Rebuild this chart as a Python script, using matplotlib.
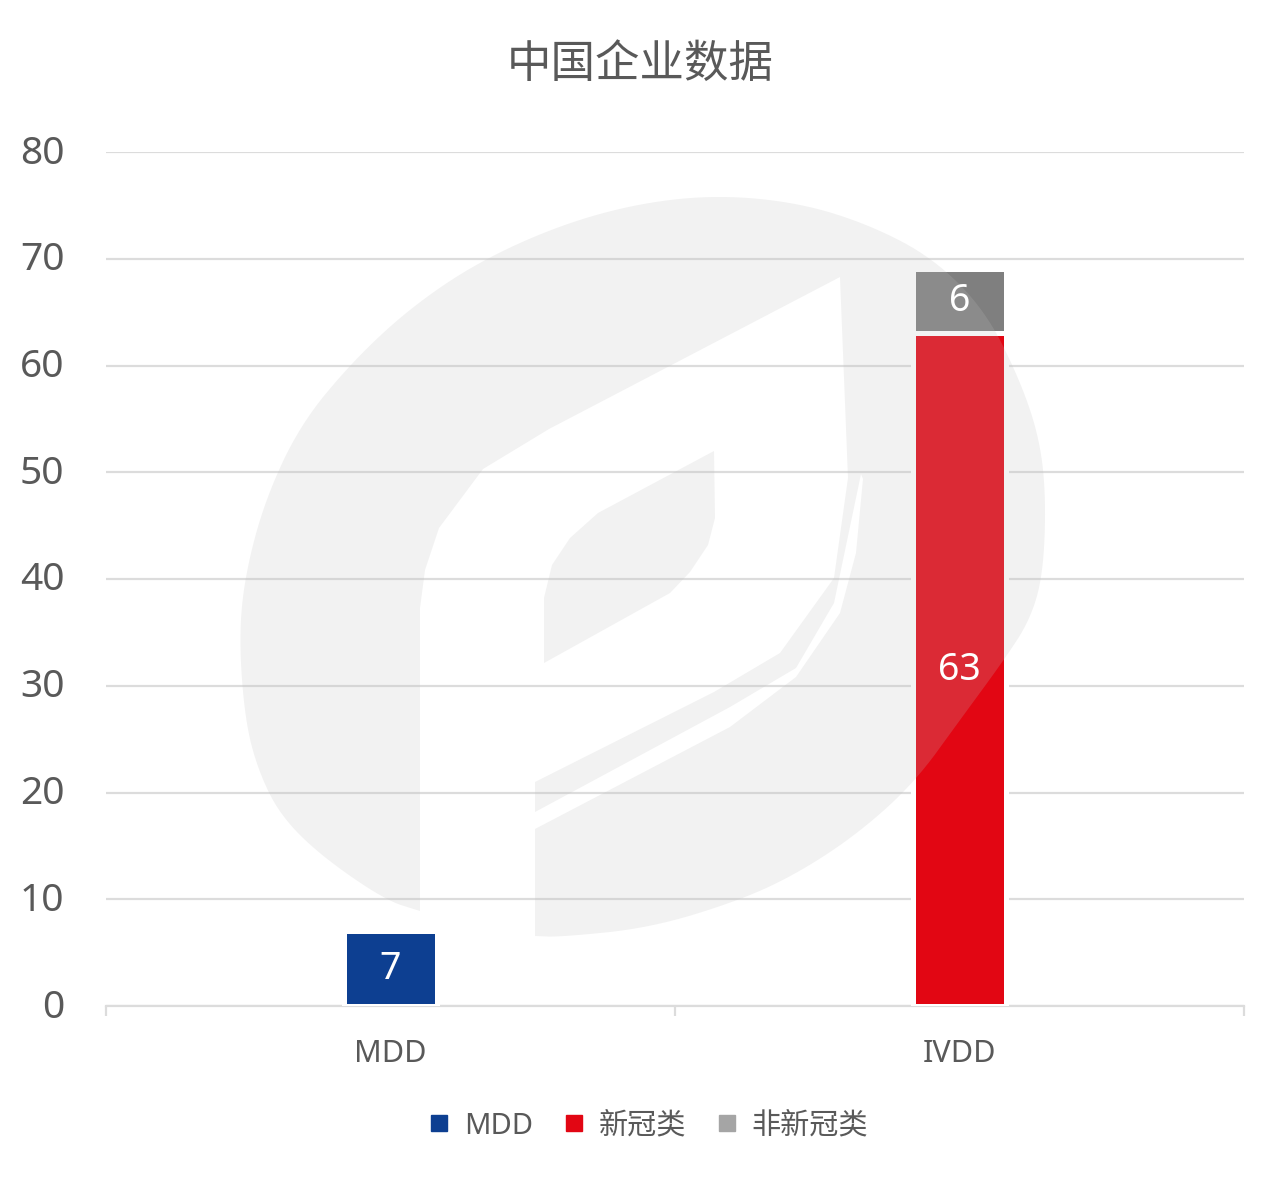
import matplotlib
matplotlib.use("Agg")
import matplotlib.pyplot as plt
from matplotlib.path import Path
from matplotlib.patches import PathPatch
from matplotlib.lines import Line2D
import matplotlib.transforms as mtransforms

plt.rcParams['font.family'] = ['Noto Sans', 'Noto Sans CJK SC', 'DejaVu Sans']

# ---- data ----
title = "中国企业数据"
categories = ["MDD", "IVDD"]
mdd_values = [7, 0]
covid_values = [0, 63]
noncovid_values = [0, 6]
series_names = ["MDD", "新冠类", "非新冠类"]
y_ticks = [0, 10, 20, 30, 40, 50, 60, 70, 80]

c_blue = "#0d3f91"
c_red = "#e20613"
c_gray = "#7f7f7f"
c_gray_legend = "#a5a5a5"
txt = "#595959"
grid_c = "#dcdcdc"

W, H = 1280, 1177
fig = plt.figure(figsize=(W / 100, H / 100), dpi=100)
ax = fig.add_axes([106 / W, 1 - 1006 / H, (1244 - 106) / W, (1006 - 152) / H])

x = list(range(len(categories)))
bw = 0.165
edge = dict(edgecolor="white", linewidth=3.6)

b1 = ax.bar(x, mdd_values, bw, color=c_blue, zorder=3, **edge)
b2 = ax.bar(x, covid_values, bw, bottom=mdd_values, color=c_red, zorder=3, **edge)
bottom3 = [a + b for a, b in zip(mdd_values, covid_values)]
b3 = ax.bar(x, noncovid_values, bw, bottom=bottom3, color=c_gray, zorder=3, **edge)

# data labels
for bars, vals, bots in [(b1, mdd_values, [0, 0]), (b2, covid_values, mdd_values),
                         (b3, noncovid_values, bottom3)]:
    for rect, v, b in zip(bars, vals, bots):
        if v > 0:
            ax.text(rect.get_x() + rect.get_width() / 2, b + v / 2, f"{v}",
                    ha="center", va="center", color="white", fontsize=27, zorder=6)

ax.set_xlim(-0.5, 1.5)
ax.set_ylim(0, 80)
ax.set_yticks(y_ticks)
ax.set_yticklabels([str(t) for t in y_ticks])
ax.tick_params(axis="y", length=0, pad=30, labelsize=28, labelcolor=txt)
for lab in ax.get_yticklabels():
    lab.set_transform(lab.get_transform() +
                      mtransforms.ScaledTranslation(0, 3 / 100, fig.dpi_scale_trans))
ax.yaxis.grid(True, color=grid_c, linewidth=1.6, zorder=0)
ax.set_axisbelow(True)

ax.set_xticks([-0.5, 0.5, 1.5])
ax.set_xticklabels(["", "", ""])
ax.set_xticks(x, minor=True)
ax.set_xticklabels(categories, minor=True)
ax.tick_params(axis="x", which="major", length=7, width=1.6, color=grid_c)
ax.tick_params(axis="x", which="minor", length=0, pad=24, labelsize=22, labelcolor=txt)

for s in ["top", "right", "left"]:
    ax.spines[s].set_visible(False)
ax.spines["bottom"].set_color(grid_c)
ax.spines["bottom"].set_linewidth(1.6)

# ---- watermark (decorative logo, image pixel coords) ----
arc = [
    (420, 911), (385, 900), (320, 855), (280, 815), (258, 770), (245, 720),
    (239, 638), (245, 575), (265, 500), (300, 425), (352, 362), (410, 308),
    (478, 262), (560, 225), (640, 203), (719, 195), (800, 203), (870, 225),
    (933, 258), (985, 310), (1020, 380), (1040, 440), (1046, 500), (1043, 575),
    (1030, 620), (1004, 660), (960, 720), (915, 782), (860, 832), (800, 872),
    (741, 900), (650, 928), (560, 937), (535, 936),
]


def smooth(pts, n=3):
    for _ in range(n):
        new = [pts[0]]
        for (x0, y0), (x1, y1) in zip(pts[:-1], pts[1:]):
            new.append((0.75 * x0 + 0.25 * x1, 0.75 * y0 + 0.25 * y1))
            new.append((0.25 * x0 + 0.75 * x1, 0.25 * y0 + 0.75 * y1))
        new.append(pts[-1])
        pts = new
    return pts


notch = [
    (535, 829), (730, 727), (796, 677), (840, 613), (856, 553), (863, 479),
    (861, 474), (834, 603), (796, 668), (730, 707), (535, 812),
    (535, 782), (714, 692), (780, 653), (834, 578), (848, 478), (840, 277),
    (549, 429), (483, 469), (439, 528), (425, 570), (420, 608),
]
outer = smooth(arc) + notch
leaf = [(544, 663), (544, 598), (552, 565), (570, 538), (598, 513), (714, 451),
        (715, 518), (708, 545), (690, 572), (670, 593)]

to_fig = mtransforms.Affine2D().scale(1 / W, -1 / H).translate(0, 1) + fig.transFigure
for poly in (outer, leaf):
    path = Path(poly + [poly[0]], closed=True)
    patch = PathPatch(path, facecolor=(0.75, 0.75, 0.75), alpha=0.2,
                      edgecolor="none", transform=to_fig, zorder=4)
    patch.set_clip_on(False)
    ax.add_patch(patch)

# title
fig.text(640 / W, 1 - 66 / H, title, ha="center", va="center", fontsize=32, color=txt)

# legend
handles = [Line2D([], [], marker="s", linestyle="none", markersize=11, color=c)
           for c in (c_blue, c_red, c_gray_legend)]
fig.legend(handles, series_names, loc="center", ncol=3, frameon=False,
           bbox_to_anchor=(648 / W, 1 - 1126 / H), bbox_transform=fig.transFigure,
           fontsize=21, labelcolor=txt, handlelength=0.8, handletextpad=0.45,
           columnspacing=1.0)

fig.savefig("out.png", dpi=100)
